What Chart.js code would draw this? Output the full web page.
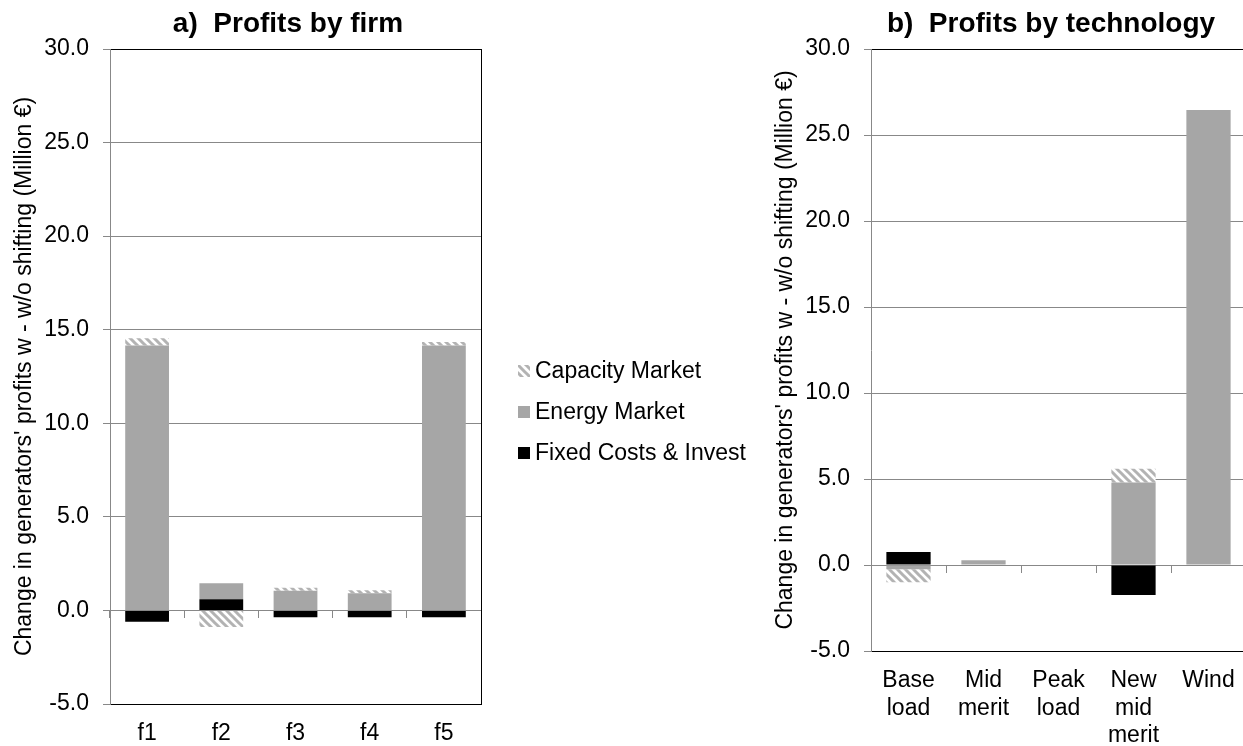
<!DOCTYPE html>
<html>
<head>
<meta charset="utf-8">
<title>Profits by firm and by technology</title>
<script src="https://cdn.jsdelivr.net/npm/chart.js@4.4.1/dist/chart.umd.min.js"></script>
<style>
  html, body { margin: 0; padding: 0; background: #fff; }
  body { width: 1243px; height: 746px; overflow: hidden; position: relative;
         font-family: "Liberation Sans", Arial, sans-serif; }
  #firmChart { position: absolute; left: 0; top: 0; }
  #techChart { position: absolute; left: 760px; top: 0; }
  #legend { position: absolute; left: 518px; top: 350px; font-size: 23px; color: #000; }
  #legend .row { height: 41px; display: flex; align-items: center; white-space: nowrap; }
  #legend canvas { width: 12px; height: 12px; margin-right: 5px; }
</style>
</head>
<body>
<canvas id="firmChart" width="576" height="746"></canvas>
<canvas id="techChart" width="582" height="746"></canvas>
<div id="legend"></div>
<script>
/* ===============================
   DATA
================================ */
const firmLabels = ["f1", "f2", "f3", "f4", "f5"];
const firmFixed = [-0.6, 0.6, -0.36, -0.37, -0.37];
const firmEnergy = [14.15, 0.85, 1.05, 0.92, 14.15];
const firmCapacity = [0.4, -0.88, 0.16, 0.16, 0.2];

const techLabels = [["Base", "load"], ["Mid", "merit"], ["Peak", "load"], ["New", "mid", "merit"], ["Wind"]];
const techFixed = [0.76, 0, 0, -1.75, 0];
const techEnergy = [-0.25, 0.28, 0, 4.8, 26.45];
const techCapacity = [-0.75, 0, 0, 0.8, 0];

const seriesNames = ["Fixed Costs & Invest", "Energy Market", "Capacity Market"];
const Y_MIN = -5, Y_MAX = 30, Y_STEP = 5;
const AXIS_TITLE = "Change in generators' profits w - w/o shifting (Million €)";

Chart.defaults.font.family = '"Liberation Sans", Arial, sans-serif';
Chart.defaults.font.size = 23;
Chart.defaults.color = "#000";

const GRID = "#888888";

/* ===============================
   HATCH FILL
================================ */
function hatchPattern() {
  const tile = document.createElement("canvas");
  tile.width = 8;
  tile.height = 8;
  const c = tile.getContext("2d");
  c.fillStyle = "#ffffff";
  c.fillRect(0, 0, 8, 8);
  c.strokeStyle = "#b3b3b3";
  c.lineWidth = 3;
  c.beginPath();
  for (let k = -8; k <= 8; k += 8) {
    c.moveTo(-2, -2 + k);
    c.lineTo(10, 10 + k);
  }
  c.stroke();
  return c.createPattern(tile, "repeat");
}

const hatch = hatchPattern();

function makeDatasets(fixed, energy, capacity) {
  return [
    { label: seriesNames[0], data: fixed, backgroundColor: "#000000", xAxisID: "x", yAxisID: "y" },
    { label: seriesNames[1], data: energy, backgroundColor: "#a6a6a6", xAxisID: "x", yAxisID: "y" },
    { label: seriesNames[2], data: capacity, backgroundColor: hatch, xAxisID: "x", yAxisID: "y" }
  ];
}

/* ===============================
   OPTIONS
================================ */
function makeOptions(title, yWidth, rightWidth, xHeight, titlePad) {
  return {
    responsive: false,
    animation: false,
    layout: { padding: 0 },
    datasets: { bar: { categoryPercentage: 1, barPercentage: 0.59, borderWidth: 0 } },
    plugins: {
      legend: { display: false },
      tooltip: { enabled: false },
      title: {
        display: true, text: title, color: "#000",
        font: { size: 28, weight: "bold" },
        padding: { top: 7, bottom: 8.4 }
      }
    },
    scales: {
      x: {
        stacked: true, position: "bottom", z: 1,
        grid: { display: false, drawTicks: false },
        border: { color: "#000" },
        ticks: { padding: 16, autoSkip: false, maxRotation: 0 },
        afterFit: s => { s.height = xHeight; }
      },
      xTop: {
        type: "category", axis: "x", position: "top", z: 1,
        grid: { display: false, drawTicks: false },
        border: { color: "#000" },
        ticks: { display: false },
        afterFit: s => { s.height = 0; }
      },
      xZero: {
        type: "category", axis: "x", position: { y: 0 }, offset: true, z: 1,
        grid: { offset: true, drawOnChartArea: false, tickLength: 7, color: GRID },
        border: { color: GRID },
        ticks: { display: false }
      },
      y: {
        stacked: true, position: "left", min: Y_MIN, max: Y_MAX,
        ticks: { stepSize: Y_STEP, padding: 14, callback: v => v.toFixed(1) },
        grid: { color: GRID, tickLength: 7 },
        border: { color: GRID },
        title: { display: true, text: AXIS_TITLE, padding: { top: titlePad, bottom: 0 } },
        afterFit: s => { s.width = yWidth; }
      },
      yRight: {
        type: "linear", axis: "y", position: "right", z: 1,
        grid: { display: false, drawTicks: false },
        border: { color: "#000" },
        ticks: { display: false },
        afterFit: s => { s.width = rightWidth; }
      }
    }
  };
}

/* ===============================
   CHARTS
================================ */
const firmChart = new Chart(document.getElementById("firmChart"), {
  type: "bar",
  data: { labels: firmLabels, datasets: makeDatasets(firmFixed, firmEnergy, firmCapacity) },
  options: makeOptions("a)  Profits by firm", 110, 95, 42, 11)
});

const techChart = new Chart(document.getElementById("techChart"), {
  type: "bar",
  data: { labels: techLabels, datasets: makeDatasets(techFixed, techEnergy, techCapacity) },
  options: makeOptions("b)  Profits by technology", 111, 96, 95, 12)
});

/* ===============================
   LEGEND (shared)
================================ */
function buildLegend(chart) {
  const box = document.getElementById("legend");
  const items = chart.options.plugins.legend.labels.generateLabels(chart).reverse();
  items.forEach(item => {
    const row = document.createElement("div");
    row.className = "row";
    const sw = document.createElement("canvas");
    sw.width = 12;
    sw.height = 12;
    const c = sw.getContext("2d");
    c.fillStyle = item.fillStyle;
    c.fillRect(0, 0, 12, 12);
    const txt = document.createElement("span");
    txt.textContent = item.text;
    row.appendChild(sw);
    row.appendChild(txt);
    box.appendChild(row);
  });
}

buildLegend(firmChart);
</script>
</body>
</html>
